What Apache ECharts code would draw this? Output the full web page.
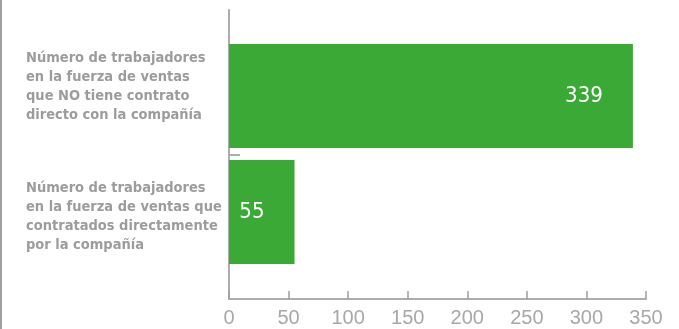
<!DOCTYPE html>
<html>
<head>
<meta charset="utf-8">
<script src="https://cdn.jsdelivr.net/npm/echarts@6/dist/echarts.min.js"></script>
<style>
html,body{margin:0;padding:0;background:#fff;}
#wrap{position:relative;width:679px;height:329px;}
#edge{position:absolute;left:0;top:0;width:2px;height:329px;background:#a0a0a0;}
#chart{position:absolute;left:0;top:0;width:679px;height:329px;}
</style>
</head>
<body>
<div id="wrap"><div id="chart"></div><div id="edge"></div></div>
<script>
const categories = [
  'Número de trabajadores\nen la fuerza de ventas\nque NO tiene contrato\ndirecto con la compañía',
  'Número de trabajadores\nen la fuerza de ventas que\ncontratados directamente\npor la compañía'
];
const values = [339, 55];
const xMin = 0, xMax = 350, xStep = 50;

const axisGray = '#adadad';
const condensed = '"Liberation Sans Narrow", "DejaVu Sans Condensed", sans-serif';
const labelShift = [-9, 5];
const chart = echarts.init(document.getElementById('chart'), null, {renderer: 'canvas'});
chart.setOption({
  animation: false,
  grid: [
    {left: 229, right: 33, top: 38, bottom: 59, outerBoundsMode: 'none', containLabel: false},
    {left: 229, right: 33, top: 10, bottom: 30, outerBoundsMode: 'none', containLabel: false}
  ],
  xAxis: [
    {gridIndex: 0, type: 'value', min: xMin, max: xMax, interval: xStep, show: false},
    {gridIndex: 1, type: 'value', min: xMin, max: xMax, interval: xStep, position: 'bottom',
     axisLine: {show: true, onZero: false, lineStyle: {color: axisGray, width: 2}},
     axisTick: {show: true, inside: true, length: 8, lineStyle: {color: '#9e9e9e', width: 1.5}},
     splitLine: {show: false},
     axisLabel: {color: '#a8a8a8', fontSize: 20, fontFamily: 'Liberation Sans', margin: 9}}
  ],
  yAxis: [
    {gridIndex: 0, type: 'category', inverse: true, data: categories,
     axisLine: {show: false}, axisTick: {show: false},
     axisLabel: {align: 'left', margin: 203, color: '#9c9c9c', fontSize: 14.5, fontWeight: 'bold',
                 lineHeight: 19, fontFamily: condensed,
                 formatter: (v, i) => '{p' + i + '|' + v + '}',
                 rich: {
                   p0: {align: 'left', lineHeight: 19, padding: [0, 0, -2 * labelShift[0], 0]},
                   p1: {align: 'left', lineHeight: 19, padding: [2 * labelShift[1], 0, 0, 0]}
                 }}},
    {gridIndex: 1, type: 'value', min: 0, max: 2, position: 'left',
     axisLine: {show: true, onZero: false, lineStyle: {color: axisGray, width: 2}},
     axisTick: {show: true, inside: true, length: 11, customValues: [1], lineStyle: {color: axisGray, width: 2}},
     axisLabel: {show: false}, splitLine: {show: false}}
  ],
  series: [{
    type: 'bar', xAxisIndex: 0, yAxisIndex: 0,
    data: values, barWidth: 104,
    itemStyle: {color: '#3ba935'},
    label: {show: true, position: 'insideRight', distance: 30, color: '#fff', fontSize: 22,
            fontFamily: condensed}
  }]
});
</script>
</body>
</html>
